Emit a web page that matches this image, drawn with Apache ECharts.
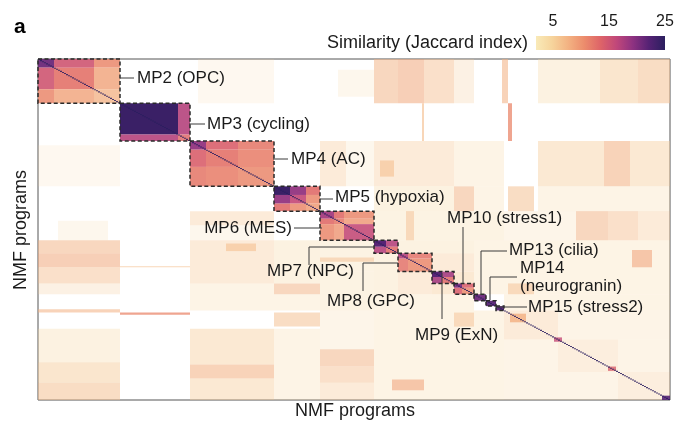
<!DOCTYPE html>
<html><head><meta charset="utf-8">
<script src="https://cdn.jsdelivr.net/npm/echarts@6/dist/echarts.min.js"></script>
<style>html,body{margin:0;padding:0;background:#fff}#c{width:680px;height:423px}</style>
</head><body><div id="c"></div>
<script>
// ---------------- data (program indices, similarity = Jaccard index) ----------------
const nPrograms = 316;
const blockNames  = ['MP2 (OPC)','MP3 (cycling)','MP4 (AC)','MP5 (hypoxia)','MP6 (MES)','MP7 (NPC)','MP8 (GPC)','MP9 (ExN)','MP10 (stress1)','MP13 (cilia)','MP14 (neurogranin)','MP15 (stress2)'];
const blockStart  = [0, 41, 76, 118, 141, 168, 180, 197, 208, 218, 224, 229];
const blockEnd    = [41, 76, 118, 141, 168, 180, 197, 208, 218, 224, 229, 233];
// [rowStart, rowEnd, colStart, colEnd, similarity, fraction of pairs with non-zero similarity]
// (mirrored across the diagonal)
const withinBlock = [
  [0,8,0,8,21,0.95],[0,8,8,28,15,0.9],[0,8,28,41,11,0.85],[8,28,8,28,12.5,0.9],[8,28,28,41,9,0.8],[28,41,28,41,8,0.75],
  [41,70,41,70,24,1],[41,70,70,76,17,0.9],[70,76,70,76,13,0.85],
  [76,84,76,84,19,0.95],[76,84,84,100,14,0.9],[76,84,100,118,12,0.88],[84,100,84,100,12.5,0.9],[84,100,100,118,11.5,0.88],[100,118,100,118,11,0.85],
  [118,126,118,126,24,1],[118,126,126,134,19,0.95],[118,126,134,141,13,0.9],[126,134,126,134,16,0.92],[126,134,134,141,11,0.85],[134,141,134,141,9.5,0.85],
  [141,148,141,148,18,0.95],[141,148,148,153,13,0.9],[141,148,153,168,11,0.85],[148,153,148,153,12,0.88],[148,153,153,168,10,0.8],[153,168,153,168,16,0.9],
  [168,174,168,174,22,1],[168,174,174,180,17,0.9],[174,180,174,180,13,0.88],
  [180,185,180,185,17,0.92],[180,185,185,197,12.5,0.85],[185,197,185,197,11,0.85],
  [197,202,197,202,22,1],[197,202,202,208,18,0.9],[202,208,202,208,13,0.88],
  [208,212,208,212,20,0.95],[208,212,212,218,14,0.88],[212,218,212,218,11,0.85],
  [218,224,218,224,21,0.95],[224,229,224,229,22,0.95],[229,233,229,233,22,0.95]
];
const offDiagonal = [
  [0,41,80,118,5,0.15],[10,35,150,168,5,0.18],[0,41,168,180,8,0.5],[0,41,180,193,8.5,0.55],[0,41,193,208,7,0.45],
  [0,41,208,218,6,0.25],[0,41,232,235,8,0.55],[0,41,250,281,5,0.3],[0,41,281,300,6,0.45],[0,41,300,316,7,0.5],
  [41,76,192,193,7,0.6],[41,76,235,237,11,0.75],
  [76,118,141,154,6,0.35],[76,118,154,168,5,0.18],[76,118,168,208,6,0.35],[94,109,171,178,7,0.55],
  [76,118,208,233,5,0.25],[76,118,250,283,6,0.4],[76,118,283,296,8,0.55],[76,118,296,316,6,0.4],
  [118,141,168,208,5,0.3],[118,141,208,218,8,0.5],[118,141,218,233,5,0.25],[118,141,235,248,7,0.5],[118,141,250,316,5,0.25],
  [141,168,168,197,5,0.28],[141,168,184,188,7,0.45],[141,168,197,233,5,0.28],[141,168,233,269,5,0.22],
  [141,168,269,285,8,0.5],[141,168,285,300,7,0.45],[141,168,300,316,6,0.35],
  [168,180,180,218,5,0.3],[180,197,197,218,6,0.35],[197,208,208,218,6,0.4],
  [168,218,218,316,5,0.26],[177,193,297,307,9,0.55],[208,218,235,248,7,0.45],
  [218,233,233,316,5,0.26],[233,260,260,316,5,0.24],[260,290,290,316,5,0.24],
  [233,260,233,260,6,0.35],[260,290,260,290,6,0.3],[290,316,290,316,6,0.3]
];
const diagonalClusters = [[236,244,236,244,8,0.8],[258,262,258,262,16,0.8],[285,289,285,289,14,0.8],[312,316,312,316,22,0.9]];
const selfSimilarity = 25;
const colourMin = 2, colourMax = 25;
const colourTicks = [5, 15, 25];
const colourStops = ['#f9eab8','#f6d49c','#f3b282','#ec8c6c','#de6468','#c0477a','#8e3281','#552274','#2b1f5f'];

// ---------------- build cell table ----------------
const cells = [];
function addRegion(r){
  cells.push(r.slice());
  if (!(r[0]===r[2] && r[1]===r[3])) cells.push([r[2],r[3],r[0],r[1],r[4],r[5]]);
}
offDiagonal.forEach(addRegion);
withinBlock.forEach(addRegion);
diagonalClusters.forEach(addRegion);
for (let i = 0; i < nPrograms; i++) cells.push([i, i+1, i, i+1, selfSimilarity, 0.85]);
const boxes = blockStart.map((s,i)=>[s, blockEnd[i]]);

const FONT = 'Liberation Sans, Arial, sans-serif';
const chart = echarts.init(document.getElementById('c'), null, {renderer:'canvas'});

function txt(x,y,t,opt){
  return {type:'text', x:x, y:y, z:100, style:Object.assign({text:t, fill:'#1a1a1a', font:'17px '+FONT, textVerticalAlign:'middle'}, opt||{})};
}
function poly(pts){ return {type:'polyline', z:100, shape:{points:pts}, style:{stroke:'#3a3a3a', lineWidth:1, fill:null}}; }

const option = {
  animation:false,
  grid:[
    {left:38, top:59, width:632, height:341, show:true, borderColor:'#555', borderWidth:1, backgroundColor:'#fff'},
    {left:536, top:36, width:129, height:14}
  ],
  xAxis:[
    {type:'value', gridIndex:0, min:0, max:nPrograms, show:false},
    {type:'value', gridIndex:1, min:colourMin, max:colourMax, position:'top',
     axisLine:{show:false}, splitLine:{show:false},
     axisTick:{show:true, inside:true, length:3, lineStyle:{color:'#fff', width:1}, customValues:colourTicks},
     axisLabel:{customValues:colourTicks, color:'#1a1a1a', fontSize:16, fontFamily:FONT, margin:6}}
  ],
  yAxis:[
    {type:'value', gridIndex:0, min:0, max:nPrograms, inverse:true, show:false},
    {type:'value', gridIndex:1, min:0, max:1, show:false}
  ],
  visualMap:{show:false, type:'continuous', min:colourMin, max:colourMax, dimension:4, seriesIndex:0, inRange:{color:colourStops}},
  series:[
    {type:'custom', xAxisIndex:0, yAxisIndex:0, data:cells, encode:{x:[2,3], y:[0,1]},
     dimensions:['r0','r1','c0','c1','similarity','density'],
     renderItem:function(params, api){
       const a = api.coord([api.value(2), api.value(0)]);
       const b = api.coord([api.value(3), api.value(1)]);
       return {type:'rect', shape:{x:a[0], y:a[1], width:b[0]-a[0], height:b[1]-a[1]},
               style:{fill:api.visual('color'), stroke:null, opacity:api.value(5)}};
     }},
    {type:'custom', xAxisIndex:0, yAxisIndex:0, data:boxes, encode:{x:[0,1], y:[0,1]}, z:5,
     renderItem:function(params, api){
       const a = api.coord([api.value(0), api.value(0)]);
       const b = api.coord([api.value(1), api.value(1)]);
       return {type:'rect', shape:{x:a[0], y:a[1], width:b[0]-a[0], height:b[1]-a[1]},
               style:{fill:null, stroke:'#2a2a2a', lineWidth:1.5, lineDash:[4,2.5]}};
     }},
    {type:'custom', xAxisIndex:1, yAxisIndex:1, data:[[colourMin, colourMax]], encode:{x:[0,1]},
     renderItem:function(params, api){
       const a = api.coord([api.value(0), 0]);
       const b = api.coord([api.value(1), 1]);
       return {type:'rect', shape:{x:a[0], y:b[1], width:b[0]-a[0], height:a[1]-b[1]},
               style:{fill:{type:'linear', x:0, y:0, x2:1, y2:0,
                 colorStops:colourStops.map((c,i)=>({offset:i/(colourStops.length-1), color:c}))}}};
     }}
  ],
  graphic:[
    txt(14, 27, 'a', {font:'bold 21px '+FONT, fill:'#000'}),
    txt(327, 43, 'Similarity (Jaccard index)', {font:'18px '+FONT}),
    txt(355, 411, 'NMF programs', {font:'18px '+FONT, textAlign:'center'}),
    {type:'text', x:21, y:230, z:100, rotation:Math.PI/2, style:{text:'NMF programs', font:'18px '+FONT, fill:'#1a1a1a', textAlign:'center', textVerticalAlign:'middle'}},
    txt(137, 78, blockNames[0]),
    txt(207, 124, blockNames[1]),
    txt(291, 159, blockNames[2]),
    txt(335, 197, blockNames[3]),
    txt(292, 228, blockNames[4], {textAlign:'right'}),
    txt(267, 271, blockNames[5]),
    txt(327, 301, blockNames[6]),
    txt(415, 335, blockNames[7]),
    txt(447, 218, blockNames[8]),
    txt(509, 250, blockNames[9]),
    txt(520, 268, 'MP14'),
    txt(520, 286, '(neurogranin)'),
    txt(528, 307, blockNames[11]),
    poly([[120,78],[134,78]]),
    poly([[189,124],[205,124]]),
    poly([[273,159],[288,159]]),
    poly([[320,199],[333,199]]),
    poly([[294,228],[322,228]]),
    poly([[309,265],[309,247],[375,247]]),
    poly([[363,291],[363,263],[398,263]]),
    poly([[442,273],[442,319]]),
    poly([[463,227],[463,283]]),
    poly([[507,251],[481,251],[481,295]]),
    poly([[517,277],[490,277],[490,300]]),
    poly([[497,307],[527,307]])
  ]
};
chart.setOption(option);
</script></body></html>
